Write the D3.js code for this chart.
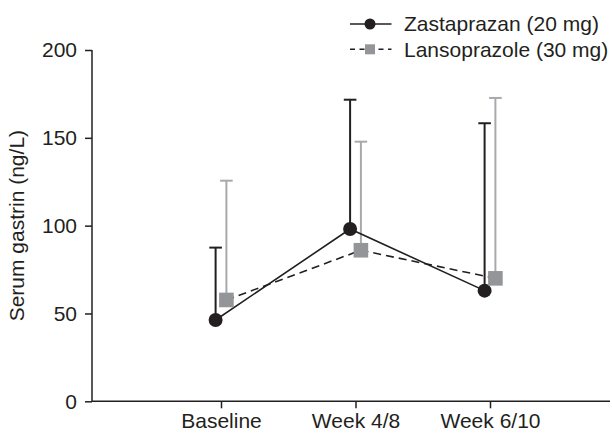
<!DOCTYPE html>
<html>
<head>
<meta charset="utf-8">
<script src="https://cdn.jsdelivr.net/npm/d3@7"></script>
<style>
  html, body { margin: 0; padding: 0; background: #fff; }
  svg { display: block; }
  text { font-family: "Liberation Sans", Arial, Helvetica, sans-serif; fill: #231f20; }
</style>
</head>
<body>
<svg id="chart" width="612" height="433"></svg>
<script>
// ---- data ----
const categories = ["Baseline", "Week 4/8", "Week 6/10"];
const seriesNames = ["Zastaprazan (20 mg)", "Lansoprazole (30 mg)"];
const zastaMean = [46.3, 98.1, 63.0];
const zastaUpper = [87.5, 171.7, 158.3];
const lansoMean = [57.7, 86.0, 70.0];
const lansoUpper = [125.6, 147.8, 172.7];
const yTicks = [0, 50, 100, 150, 200];
const yLabel = "Serum gastrin (ng/L)";

// ---- layout ----
const svg = d3.select("#chart");
const ink = "#231f20";
const x0 = 92, x1 = 610, yTop = 50, yBot = 401.3;
const fs = 21;

const y = d3.scaleLinear().domain([0, 200]).range([yBot, yTop]);
const x = d3.scalePoint().domain(categories).range([221, 490]);
const off = d3.scalePoint().domain(seriesNames).range([-5.4, 5.4]);

// axes
const yAxis = d3.axisLeft(y).tickValues(yTicks).tickSize(7).tickPadding(8);
const gy = svg.append("g").attr("transform", `translate(${x0},0)`).call(yAxis);
gy.select(".domain").remove();
gy.append("line").attr("x1", 0).attr("x2", 0).attr("y1", yTop).attr("y2", yBot)
  .attr("stroke", ink).attr("stroke-width", 1.5);
gy.selectAll(".tick line").attr("stroke", ink).attr("stroke-width", 1.5);
gy.selectAll(".tick text").attr("font-size", fs).attr("fill", ink)
  .attr("font-family", "Liberation Sans, Arial, sans-serif");

const xAxis = d3.axisBottom(x).tickSize(7).tickPadding(5);
const gx = svg.append("g").attr("transform", `translate(0,${yBot})`).call(xAxis);
gx.select(".domain").remove();
gx.append("line").attr("x1", x0).attr("x2", x1).attr("y1", 0).attr("y2", 0)
  .attr("stroke", ink).attr("stroke-width", 1.5);
gx.selectAll(".tick line").attr("stroke", ink).attr("stroke-width", 1.5);
gx.selectAll(".tick text").attr("font-size", fs).attr("fill", ink)
  .attr("font-family", "Liberation Sans, Arial, sans-serif");

// y label
svg.append("text")
  .attr("transform", `translate(24,${y(100)}) rotate(-90)`)
  .attr("text-anchor", "middle")
  .attr("font-size", fs)
  .text(yLabel);

// series definitions
const series = [
  { name: seriesNames[0], mean: zastaMean, upper: zastaUpper, barColor: ink, lineDash: null, marker: "circle" },
  { name: seriesNames[1], mean: lansoMean, upper: lansoUpper, barColor: "#a7a9ac", lineDash: "8,5", marker: "square" }
];

const px = (s, i) => x(categories[i]) + off(s.name);

// error bars
series.forEach(s => {
  const g = svg.append("g");
  categories.forEach((c, i) => {
    const cx = px(s, i);
    g.append("line").attr("x1", cx).attr("x2", cx)
      .attr("y1", y(s.mean[i])).attr("y2", y(s.upper[i]))
      .attr("stroke", s.barColor).attr("stroke-width", 2);
    g.append("line").attr("x1", cx - 6.3).attr("x2", cx + 6.3)
      .attr("y1", y(s.upper[i])).attr("y2", y(s.upper[i]))
      .attr("stroke", s.barColor).attr("stroke-width", 2);
  });
});

// lines
series.slice().reverse().forEach(s => {
  const line = d3.line().x((d, i) => px(s, i)).y(d => y(d));
  svg.append("path").datum(s.mean)
    .attr("d", line).attr("fill", "none")
    .attr("stroke", ink).attr("stroke-width", 1.6)
    .attr("stroke-dasharray", s.lineDash);
});

// markers
series.forEach(s => {
  s.mean.forEach((v, i) => {
    const cx = px(s, i), cy = y(v);
    if (s.marker === "circle") {
      svg.append("circle").attr("cx", cx).attr("cy", cy).attr("r", 7).attr("fill", ink);
    } else {
      svg.append("rect").attr("x", cx - 7.3).attr("y", cy - 7.3)
        .attr("width", 14.6).attr("height", 14.6).attr("fill", "#939598");
    }
  });
});

// legend
const lg = svg.append("g");
const legY = [24, 49.3];
series.forEach((s, k) => {
  const ly = legY[k];
  lg.append("line").attr("x1", 350).attr("x2", 391.5).attr("y1", ly).attr("y2", ly)
    .attr("stroke", ink).attr("stroke-width", 1.6)
    .attr("stroke-dasharray", s.lineDash ? "5,4.5" : null);
  if (s.marker === "circle") {
    lg.append("circle").attr("cx", 370).attr("cy", ly).attr("r", 5.5).attr("fill", ink);
  } else {
    lg.append("rect").attr("x", 365).attr("y", ly - 5).attr("width", 10).attr("height", 10).attr("fill", "#939598");
  }
  lg.append("text").attr("x", 404).attr("y", ly).attr("dy", "0.35em")
    .attr("font-size", fs).text(s.name);
});
</script>
</body>
</html>
